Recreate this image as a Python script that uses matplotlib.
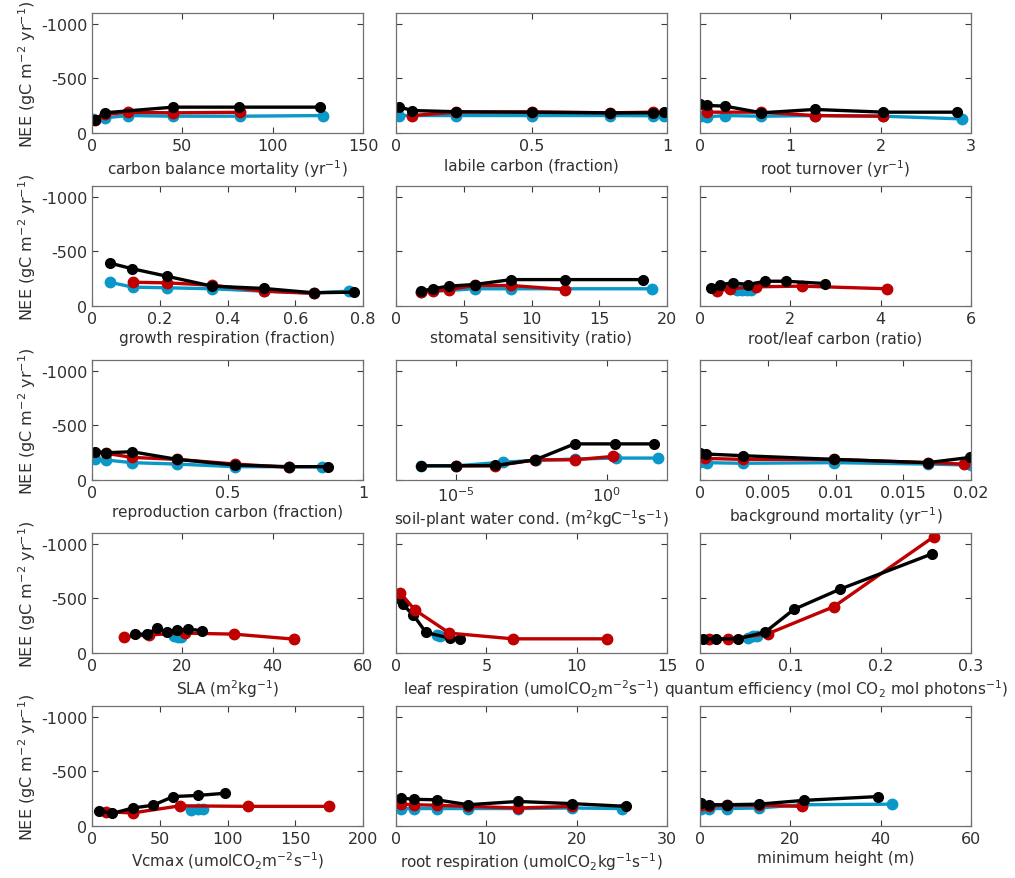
import matplotlib
matplotlib.use('Agg')
import matplotlib.pyplot as plt
from matplotlib.ticker import FormatStrFormatter, NullLocator

plt.rcParams['font.family'] = ['DejaVu Sans']
plt.rcParams['mathtext.default'] = 'regular'
plt.rcParams['axes.unicode_minus'] = False

# each series: (x values, NEE values)
# row 1
cbm_k = ([1.5, 7, 45, 81.5, 126], [-123, -185, -237, -237, -237])
cbm_r = ([1.5, 7, 20, 45, 82], [-115, -170, -190, -185, -190])
cbm_b = ([0.3, 7, 20, 45, 82, 128], [-132, -139, -160, -154, -154, -160])

lab_k = ([0.01, 0.06, 0.22, 0.5, 0.79, 0.95, 0.99], [-240, -206, -195, -190, -185, -185, -190])
lab_r = ([0.06, 0.22, 0.5, 0.79, 0.95], [-160, -191, -194, -185, -191])
lab_b = ([0.01, 0.22, 0.5, 0.79, 0.95, 0.99], [-160, -160, -160, -160, -158, -160])

rto_k = ([0, 0.074, 0.28, 0.68, 1.27, 2.03, 2.85], [-262, -253, -246, -185, -216, -191, -191])
rto_r = ([0.074, 0.68, 1.27, 2.03], [-191, -191, -160, -154])
rto_b = ([0.01, 0.074, 0.28, 0.68, 1.27, 2.03, 2.9], [-154, -148, -160, -154, -160, -154, -129])

# row 2
grs_k = ([0.052, 0.118, 0.221, 0.354, 0.507, 0.654, 0.774], [-394, -342, -273, -182, -161, -121, -127])
grs_r = ([0.12, 0.221, 0.354, 0.507, 0.654], [-218, -212, -191, -136, -115])
grs_b = ([0.052, 0.12, 0.221, 0.354, 0.507, 0.654, 0.758], [-218, -173, -167, -158, -136, -121, -136])

sto_k = ([1.85, 2.7, 3.9, 5.8, 8.5, 12.5, 18.2], [-136, -158, -182, -197, -242, -242, -242])
sto_r = ([1.85, 2.7, 3.9, 5.8, 8.5, 12.5], [-127, -136, -151, -188, -188, -151])
sto_b = ([1.85, 5.8, 8.5, 18.9], [-127, -158, -158, -158])

rlc_k = ([0.24, 0.44, 0.74, 1.07, 1.44, 1.91, 2.76], [-161, -197, -212, -197, -227, -227, -206])
rlc_r = ([0.37, 0.66, 1.25, 2.25, 4.14], [-136, -158, -176, -182, -158])
rlc_b = ([0.82, 0.92, 1.03, 1.14], [-145, -145, -145, -151])

# row 3
rep_k = ([0.012, 0.053, 0.148, 0.314, 0.529, 0.726, 0.87], [-259, -250, -259, -189, -137, -122, -122])
rep_r = ([0.053, 0.148, 0.314, 0.529, 0.726], [-244, -207, -189, -146, -116])
rep_b = ([0.012, 0.053, 0.148, 0.314, 0.529, 0.726, 0.85], [-189, -183, -159, -146, -122, -122, -122])

spw_k = ([6.6e-7, 1e-5, 2.0e-4, 4.2e-3, 0.085, 1.9, 38], [-130, -130, -133, -185, -331, -331, -331])
spw_r = ([1e-5, 2.0e-4, 4.2e-3, 0.085, 1.6], [-130, -130, -185, -185, -216])
spw_b = ([6.6e-7, 1e-5, 3.7e-4, 4.5e-3, 0.085, 2.0, 51], [-130, -130, -164, -180, -192, -201, -201])

bgm_k = ([0, 0.00044, 0.00314, 0.00987, 0.0168, 0.01993], [-244, -238, -223, -189, -159, -207])
bgm_r = ([0.0004, 0.00314, 0.00987, 0.0168, 0.0195], [-198, -189, -189, -159, -146])
bgm_b = ([0, 0.0005, 0.00314, 0.00987, 0.0168, 0.02], [-162, -159, -153, -159, -146, -137])

# row 4
sla_k = ([9.6, 12.2, 14.4, 16.6, 18.8, 21.2, 24.4], [-173, -173, -227, -191, -212, -218, -206])
sla_r = ([7.0, 12.7, 20.7, 31.4, 44.8], [-145, -167, -182, -173, -127])
sla_b = ([18.1, 19.0, 19.6], [-152, -145, -145])

lre_k = ([0.04, 0.37, 0.96, 1.66, 2.99, 3.55], [-506, -445, -348, -188, -136, -130])
lre_r = ([0.22, 1.05, 2.96, 6.47, 11.67], [-554, -394, -182, -130, -130])
lre_b = ([2.29, 2.44], [-167, -152])

qef_k = ([0.003, 0.018, 0.042, 0.072, 0.104, 0.155, 0.257], [-130, -130, -130, -191, -400, -585, -909])
qef_r = ([0.010, 0.031, 0.075, 0.148, 0.259], [-124, -127, -176, -424, -1067])
qef_b = ([0.053, 0.059, 0.063], [-142, -152, -158])

# row 5
vcm_k = ([5, 15, 30, 45, 60, 78, 98], [-140, -115, -165, -190, -270, -280, -300])
vcm_r = ([10, 30, 65, 115, 175], [-130, -120, -185, -180, -180])
vcm_b = ([73, 78, 82], [-150, -160, -155])

rre_k = ([0.5, 2, 4.5, 8, 13.5, 19.5, 25.5], [-255, -245, -240, -195, -225, -205, -180])
rre_r = ([0.5, 2, 4.5, 8, 13.5, 19.5], [-200, -195, -190, -180, -165, -180])
rre_b = ([0.5, 2, 4.5, 8, 13.5, 19.5, 25], [-160, -160, -160, -160, -160, -165, -160])

mht_k = ([0.3, 2, 6, 13, 23, 39.5], [-210, -195, -195, -200, -235, -270])
mht_r = ([0.3, 2, 6, 13, 22.5], [-190, -185, -190, -190, -180])
mht_b = ([0.3, 2, 6, 13, 22.5, 42.5], [-160, -160, -160, -165, -195, -200])

xlabels = ['carbon balance mortality (yr$^{-1}$)', 'labile carbon (fraction)', 'root turnover (yr$^{-1}$)',
           'growth respiration (fraction)', 'stomatal sensitivity (ratio)', 'root/leaf carbon (ratio)',
           'reproduction carbon (fraction)', 'soil-plant water cond. (m$^2$kgC$^{-1}$s$^{-1}$)', 'background mortality (yr$^{-1}$)',
           'SLA (m$^2$kg$^{-1}$)', 'leaf respiration (umolCO$_2$m$^{-2}$s$^{-1}$)', 'quantum efficiency (mol CO$_2$ mol photons$^{-1}$)',
           'Vcmax (umolCO$_2$m$^{-2}$s$^{-1}$)', 'root respiration (umolCO$_2$kg$^{-1}$s$^{-1}$)', 'minimum height (m)']
xticks = [[0, 50, 100, 150], [0, 0.5, 1], [0, 1, 2, 3],
          [0, 0.2, 0.4, 0.6, 0.8], [0, 5, 10, 15, 20], [0, 2, 4, 6],
          [0, 0.5, 1], [1e-5, 1e0], [0, 0.005, 0.01, 0.015, 0.02],
          [0, 20, 40, 60], [0, 5, 10, 15], [0, 0.1, 0.2, 0.3],
          [0, 50, 100, 150, 200], [0, 10, 20, 30], [0, 20, 40, 60]]
xlims = [(0, 150), (0, 1), (0, 3), (0, 0.8), (0, 20), (0, 6), (0, 1), (1e-7, 1e2), (0, 0.02),
         (0, 60), (0, 15), (0, 0.3), (0, 200), (0, 30), (0, 60)]
panels = [(cbm_k, cbm_r, cbm_b), (lab_k, lab_r, lab_b), (rto_k, rto_r, rto_b),
          (grs_k, grs_r, grs_b), (sto_k, sto_r, sto_b), (rlc_k, rlc_r, rlc_b),
          (rep_k, rep_r, rep_b), (spw_k, spw_r, spw_b), (bgm_k, bgm_r, bgm_b),
          (sla_k, sla_r, sla_b), (lre_k, lre_r, lre_b), (qef_k, qef_r, qef_b),
          (vcm_k, vcm_r, vcm_b), (rre_k, rre_r, rre_b), (mht_k, mht_r, mht_b)]

W, H = 1015, 879
fig = plt.figure(figsize=(W / 100, H / 100), dpi=100)
lefts = [92, 396, 700]
tops = [14, 187, 361, 534, 707]
aw, ah = 271, 120
red = '#C00000'
blue = '#0A98C8'
grey = '#3a3a3a'

for i, (k, r, b) in enumerate(panels):
    row, col = divmod(i, 3)
    ax = fig.add_axes([lefts[col] / W, (H - tops[row] - ah) / H, aw / W, ah / H])
    ax.plot(b[0], b[1], '-o', color=blue, lw=2.4, ms=7.5)
    # leaf respiration: red drawn over black
    if i == 10:
        ax.plot(k[0], k[1], '-o', color='k', lw=2.4, ms=7)
        ax.plot(r[0], r[1], '-o', color=red, lw=2.4, ms=7.5)
    else:
        ax.plot(r[0], r[1], '-o', color=red, lw=2.4, ms=7.5)
        ax.plot(k[0], k[1], '-o', color='k', lw=2.4, ms=7)
    if i == 7:
        ax.set_xscale('log')
        ax.xaxis.set_minor_locator(NullLocator())
    ax.set_xlim(xlims[i])
    ax.set_xticks(xticks[i])
    if i != 7:
        ax.xaxis.set_major_formatter(FormatStrFormatter('%g'))
    ax.set_ylim(0, -1100)
    ax.set_yticks([-1000, -500, 0])
    ax.tick_params(direction='in', top=True, right=True, length=4, width=0.8,
                   colors=grey, labelsize=11.5, labelcolor='#303030')
    if col == 0:
        ax.set_ylabel('NEE (gC m$^{-2}$ yr$^{-1}$)', fontsize=11.5, color='#303030', labelpad=2)
    else:
        ax.set_yticklabels([])
    ax.set_xlabel(xlabels[i], fontsize=11, color='#303030', labelpad=3)
    for s in ax.spines.values():
        s.set_color('#707070')
        s.set_linewidth(0.9)

plt.savefig('out.png', dpi=100)
